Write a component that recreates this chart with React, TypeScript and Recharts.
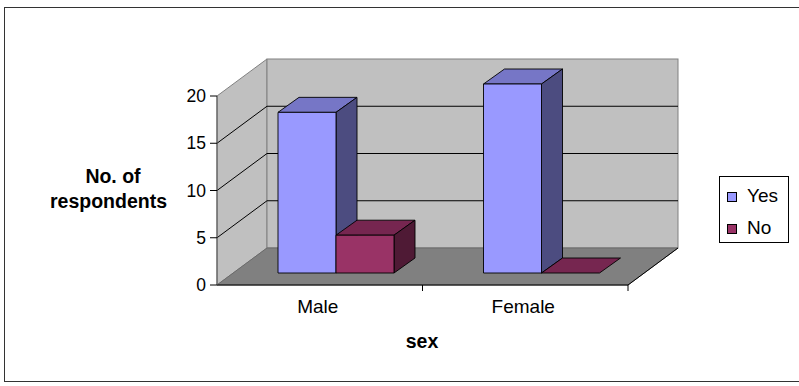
import React from "react";
import {
  BarChart,
  Bar,
  XAxis,
  YAxis,
  Legend,
  Customized,
} from "recharts";

const categories = ["Male", "Female"];
const seriesNames = ["Yes", "No"];
const yesCounts = [17, 20];
const noCounts = [4, 0];
const yTicks = [0, 5, 10, 15, 20];
const Y_MAX = 20;

const data = categories.map((sex, i) => ({
  sex,
  Yes: yesCounts[i],
  No: noCounts[i],
}));

// layout of the front plane of the 3D box
const W = 799;
const H = 386;
const PLOT = { left: 217, top: 96, right: 628, bottom: 285 };
const Y_AXIS_W = 60;
const X_AXIS_H = 40;
const WALL = { dx: 50, dy: 37 }; // front plane -> back wall
const SHIFT = { dx: 16, dy: 12 }; // front plane -> bar front faces
const DEPTH = { dx: 21, dy: 15 }; // bar depth
const FONT = '"Liberation Sans", Arial, sans-serif';

const COLORS: Record<string, { front: string; top: string; side: string }> = {
  Yes: { front: "#9999ff", top: "#7676c6", side: "#4c4c80" },
  No: { front: "#993366", top: "#762650", side: "#4f1a35" },
};

const makeBox = (c: { front: string; top: string; side: string }) => (props: any) => {
  const { x, y, width, height } = props;
  const fx = x + SHIFT.dx;
  const fy = y - SHIFT.dy;
  const r = fx + width;
  const b = fy + height;
  const { dx, dy } = DEPTH;
  return (
    <g stroke="#000" strokeWidth={0.9} strokeLinejoin="round">
      <path
        d={`M${fx},${fy}L${fx + dx},${fy - dy}L${r + dx},${fy - dy}L${r},${fy}Z`}
        fill={c.top}
      />
      {height > 0 && (
        <path
          d={`M${r},${fy}L${r + dx},${fy - dy}L${r + dx},${b - dy}L${r},${b}Z`}
          fill={c.side}
        />
      )}
      {height > 0 && <rect x={fx} y={fy} width={width} height={height} fill={c.front} />}
    </g>
  );
};

// back wall, side wall, floor and the gridlines running across them
const Walls = () => {
  const { left, top, right, bottom } = PLOT;
  const { dx, dy } = WALL;
  const yOf = (v: number) => bottom - (v / Y_MAX) * (bottom - top);
  return (
    <g>
      <polygon
        points={`${left},${bottom} ${left + dx},${bottom - dy} ${left + dx},${top - dy} ${left},${top}`}
        fill="#c0c0c0"
        stroke="#808080"
      />
      <rect
        x={left + dx}
        y={top - dy}
        width={right - left}
        height={bottom - top}
        fill="#c0c0c0"
        stroke="#808080"
      />
      {yTicks
        .filter((v) => v > 0 && v < Y_MAX)
        .map((v) => {
          const gy = yOf(v);
          return (
            <g key={v} stroke="#000">
              <line x1={left} y1={gy} x2={left + dx} y2={gy - dy} />
              <line x1={left + dx} y1={gy - dy} x2={right + dx} y2={gy - dy} />
            </g>
          );
        })}
      <polygon
        points={`${left},${bottom} ${right},${bottom} ${right + dx},${bottom - dy} ${left + dx},${bottom - dy}`}
        fill="#808080"
        stroke="#6a6a6a"
      />
      <line x1={right} y1={bottom} x2={right + dx} y2={bottom - dy} stroke="#000" />
    </g>
  );
};

const XTick = (props: any) => {
  const { x, y, payload } = props;
  const half =
    typeof payload?.offset === "number" && payload.offset > 0
      ? payload.offset
      : (PLOT.right - PLOT.left) / categories.length / 2;
  return (
    <g>
      <line x1={x + half} y1={y} x2={x + half} y2={y + 6} stroke="#000" />
      <text x={x - 2} y={y + 28} textAnchor="middle" fill="#000" fontSize={19} fontFamily={FONT}>
        {payload.value}
      </text>
    </g>
  );
};

const Titles = () => (
  <g fontFamily={FONT} fontWeight="bold" fontSize={19.5} fill="#000">
    <text x={113} y={183} textAnchor="middle">
      No. of
    </text>
    <text x={108.5} y={208} textAnchor="middle">
      respondents
    </text>
    <text x={422} y={348} textAnchor="middle">
      sex
    </text>
    <rect x={4.5} y={7.5} width={W} height={374} fill="none" stroke="#333" />
  </g>
);

const renderLegend = () => (
  <svg width={70} height={67} style={{ display: "block" }}>
    <rect x={0.5} y={0.5} width={69} height={66} fill="#fff" stroke="#000" />
    {seriesNames.map((name, i) => (
      <g key={name}>
        <rect
          x={8.5}
          y={16.5 + i * 32}
          width={9}
          height={9}
          fill={COLORS[name].front}
          stroke="#000"
        />
        <text x={28} y={26 + i * 32} fontSize={19} fontFamily={FONT} fill="#000">
          {name}
        </text>
      </g>
    ))}
  </svg>
);

export default function App() {
  return (
    <div style={{ position: "absolute", left: 0, top: 0, width: W, height: H, background: "#fff" }}>
      <BarChart
        width={W}
        height={H}
        data={data}
        barSize={58}
        barGap={0}
        margin={{
          top: PLOT.top,
          right: W - PLOT.right,
          bottom: H - PLOT.bottom - X_AXIS_H,
          left: PLOT.left - Y_AXIS_W,
        }}
      >
        <Customized component={Walls} />
        <XAxis
          dataKey="sex"
          height={X_AXIS_H}
          tickLine={false}
          tickSize={0}
          tickMargin={0}
          axisLine={{ stroke: "#000" }}
          tick={XTick}
          interval={0}
        />
        <YAxis
          type="number"
          domain={[0, Y_MAX]}
          ticks={yTicks}
          width={Y_AXIS_W}
          tickSize={7}
          tickMargin={4}
          interval={0}
          axisLine={{ stroke: "#555" }}
          tickLine={{ stroke: "#000" }}
          tick={{ fill: "#000", fontSize: 17.5, fontFamily: FONT }}
        />
        {seriesNames.map((name) => (
          <Bar
            key={name}
            dataKey={name}
            name={name}
            fill={COLORS[name].front}
            shape={makeBox(COLORS[name])}
            isAnimationActive={false}
          />
        ))}
        <Legend
          layout="horizontal"
          verticalAlign="middle"
          align="center"
          content={renderLegend}
          wrapperStyle={{ left: 719, top: 176, width: 70, height: 67 }}
        />
        <Customized component={Titles} />
      </BarChart>
    </div>
  );
}
